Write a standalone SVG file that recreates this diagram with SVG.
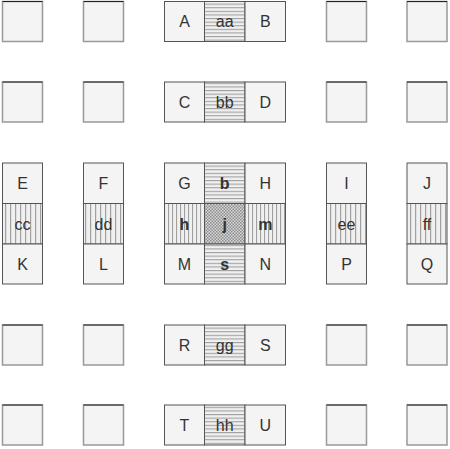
<svg xmlns="http://www.w3.org/2000/svg" width="450" height="449" viewBox="0 0 450 449">
<defs>
<pattern id="hz" width="4" height="3.6" patternUnits="userSpaceOnUse"><rect width="4" height="3.6" fill="#f0f0f0"/><rect y="0" width="4" height="1.1" fill="#a0a0a0"/></pattern>
<pattern id="vt" width="5" height="4" patternUnits="userSpaceOnUse"><rect width="5" height="4" fill="#f0f0f0"/><rect x="0" width="1.2" height="4" fill="#a0a0a0"/></pattern>
<pattern id="vt4" width="4" height="4" patternUnits="userSpaceOnUse"><rect width="4" height="4" fill="#f0f0f0"/><rect x="0" width="1.1" height="4" fill="#a0a0a0"/></pattern>
<pattern id="ck" width="3" height="3" patternUnits="userSpaceOnUse"><rect width="3" height="3" fill="#d8d8d8"/><rect width="1.5" height="1.5" fill="#8c8c8c"/><rect x="1.5" y="1.5" width="1.5" height="1.5" fill="#8c8c8c"/></pattern>
</defs>
<style>
.b{fill:#f4f4f4;stroke:#555;stroke-width:1}
.e{fill:#f4f4f4;stroke:#999;stroke-width:1.5}
.et{stroke:#222;stroke-width:1}
.h{fill:url(#hz);stroke:#555;stroke-width:1}
.v{fill:url(#vt);stroke:#555;stroke-width:1}
.v4{fill:url(#vt4);stroke:#555;stroke-width:1}
.c{fill:url(#ck);stroke:#555;stroke-width:1}
text{font-family:"Liberation Sans",Arial,sans-serif;font-size:16px;fill:#333;text-anchor:middle;dominant-baseline:central}
.bd{font-weight:bold}
</style>
<rect width="450" height="449" fill="#fff"/>
<g id="empty">
<g id="e11"><rect class="e" x="2.5" y="1.5" width="40" height="40"/><line class="et" x1="2.5" y1="1.5" x2="42.5" y2="1.5"/></g>
<g id="e12"><rect class="e" x="83.5" y="1.5" width="40" height="40"/><line class="et" x1="83.5" y1="1.5" x2="123.5" y2="1.5"/></g>
<g id="e14"><rect class="e" x="326.5" y="1.5" width="40" height="40"/><line class="et" x1="326.5" y1="1.5" x2="366.5" y2="1.5"/></g>
<g id="e15"><rect class="e" x="407" y="1.5" width="40" height="40"/><line class="et" x1="407" y1="1.5" x2="447" y2="1.5"/></g>
<g id="e21"><rect class="e" x="2.5" y="82" width="40" height="40"/><line class="et" x1="2.5" y1="82" x2="42.5" y2="82"/></g>
<g id="e22"><rect class="e" x="83.5" y="82" width="40" height="40"/><line class="et" x1="83.5" y1="82" x2="123.5" y2="82"/></g>
<g id="e24"><rect class="e" x="326.5" y="82" width="40" height="40"/><line class="et" x1="326.5" y1="82" x2="366.5" y2="82"/></g>
<g id="e25"><rect class="e" x="407" y="82" width="40" height="40"/><line class="et" x1="407" y1="82" x2="447" y2="82"/></g>
<g id="e41"><rect class="e" x="2.5" y="325" width="40" height="40"/><line class="et" x1="2.5" y1="325" x2="42.5" y2="325"/></g>
<g id="e42"><rect class="e" x="83.5" y="325" width="40" height="40"/><line class="et" x1="83.5" y1="325" x2="123.5" y2="325"/></g>
<g id="e44"><rect class="e" x="326.5" y="325" width="40" height="40"/><line class="et" x1="326.5" y1="325" x2="366.5" y2="325"/></g>
<g id="e45"><rect class="e" x="407" y="325" width="40" height="40"/><line class="et" x1="407" y1="325" x2="447" y2="325"/></g>
<g id="e51"><rect class="e" x="2.5" y="405" width="40" height="40"/><line class="et" x1="2.5" y1="405" x2="42.5" y2="405"/></g>
<g id="e52"><rect class="e" x="83.5" y="405" width="40" height="40"/><line class="et" x1="83.5" y1="405" x2="123.5" y2="405"/></g>
<g id="e54"><rect class="e" x="326.5" y="405" width="40" height="40"/><line class="et" x1="326.5" y1="405" x2="366.5" y2="405"/></g>
<g id="e55"><rect class="e" x="407" y="405" width="40" height="40"/><line class="et" x1="407" y1="405" x2="447" y2="405"/></g>
</g>
<g id="row1">
<g id="A"><rect class="b" x="164.5" y="1.5" width="40" height="40"/><text x="184.5" y="21.5">A</text></g>
<g id="aa"><rect class="h" x="204.5" y="1.5" width="40.5" height="40"/><text x="224.75" y="21.5">aa</text></g>
<g id="B"><rect class="b" x="245" y="1.5" width="40.5" height="40"/><text x="265.25" y="21.5">B</text></g>
</g>
<g id="row2">
<g id="C"><rect class="b" x="164.5" y="82" width="40" height="40"/><text x="184.5" y="102">C</text></g>
<g id="bb"><rect class="h" x="204.5" y="82" width="40.5" height="40"/><text x="224.75" y="102">bb</text></g>
<g id="D"><rect class="b" x="245" y="82" width="40.5" height="40"/><text x="265.25" y="102">D</text></g>
</g>
<g id="row3">
<g id="E"><rect class="b" x="2.5" y="163" width="40" height="40.5"/><text x="22.5" y="183.5">E</text></g>
<g id="cc"><rect class="v" x="2.5" y="203.5" width="40" height="40.5"/><text x="22.5" y="224">cc</text></g>
<g id="K"><rect class="b" x="2.5" y="244" width="40" height="40"/><text x="22.5" y="264">K</text></g>
<g id="F"><rect class="b" x="83.5" y="163" width="40" height="40.5"/><text x="103.5" y="183.5">F</text></g>
<g id="dd"><rect class="v" x="83.5" y="203.5" width="40" height="40.5"/><text x="103.5" y="224">dd</text></g>
<g id="L"><rect class="b" x="83.5" y="244" width="40" height="40"/><text x="103.5" y="264">L</text></g>
<g id="G"><rect class="b" x="164.5" y="163" width="40" height="40.5"/><text x="184.5" y="183.5">G</text></g>
<g id="b"><rect class="h" x="204.5" y="163" width="40.5" height="40.5"/><text x="224.75" y="183.5" class="bd">b</text></g>
<g id="H"><rect class="b" x="245" y="163" width="40.5" height="40.5"/><text x="265.25" y="183.5">H</text></g>
<g id="h"><rect class="v4" x="164.5" y="203.5" width="40" height="40.5"/><text x="184.5" y="224" class="bd">h</text></g>
<g id="j"><rect class="c" x="204.5" y="203.5" width="40.5" height="40.5"/><text x="224.75" y="224" class="bd">j</text></g>
<g id="m"><rect class="v4" x="245" y="203.5" width="40.5" height="40.5"/><text x="265.25" y="224" class="bd">m</text></g>
<g id="M"><rect class="b" x="164.5" y="244" width="40" height="40"/><text x="184.5" y="264">M</text></g>
<g id="s"><rect class="h" x="204.5" y="244" width="40.5" height="40"/><text x="224.75" y="264" class="bd">s</text></g>
<g id="N"><rect class="b" x="245" y="244" width="40.5" height="40"/><text x="265.25" y="264">N</text></g>
<g id="I"><rect class="b" x="326.5" y="163" width="40" height="40.5"/><text x="346.5" y="183.5">I</text></g>
<g id="ee"><rect class="v" x="326.5" y="203.5" width="40" height="40.5"/><text x="346.5" y="224">ee</text></g>
<g id="P"><rect class="b" x="326.5" y="244" width="40" height="40"/><text x="346.5" y="264">P</text></g>
<g id="J"><rect class="b" x="407" y="163" width="40" height="40.5"/><text x="427" y="183.5">J</text></g>
<g id="ff"><rect class="v" x="407" y="203.5" width="40" height="40.5"/><text x="427" y="224">ff</text></g>
<g id="Q"><rect class="b" x="407" y="244" width="40" height="40"/><text x="427" y="264">Q</text></g>
</g>
<g id="row4">
<g id="R"><rect class="b" x="164.5" y="325" width="40" height="40"/><text x="184.5" y="345">R</text></g>
<g id="gg"><rect class="h" x="204.5" y="325" width="40.5" height="40"/><text x="224.75" y="345">gg</text></g>
<g id="S"><rect class="b" x="245" y="325" width="40.5" height="40"/><text x="265.25" y="345">S</text></g>
</g>
<g id="row5">
<g id="T"><rect class="b" x="164.5" y="405" width="40" height="40"/><text x="184.5" y="425">T</text></g>
<g id="hh"><rect class="h" x="204.5" y="405" width="40.5" height="40"/><text x="224.75" y="425">hh</text></g>
<g id="U"><rect class="b" x="245" y="405" width="40.5" height="40"/><text x="265.25" y="425">U</text></g>
</g>
<g id="connectors"/>
</svg>
